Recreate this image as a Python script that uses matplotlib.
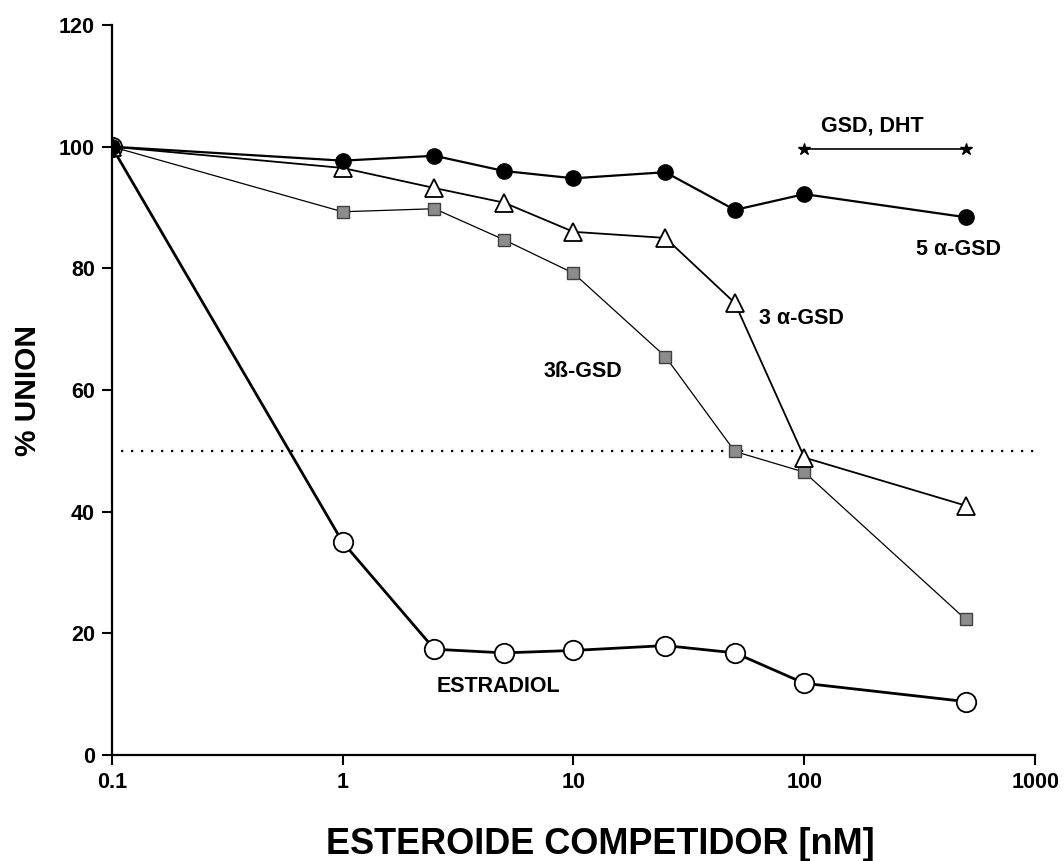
import matplotlib
matplotlib.use("Agg")
import matplotlib.pyplot as plt

conc = [0.1, 1, 2.5, 5, 10, 25, 50, 100, 500]
estradiol = [100, 35, 17.4, 16.8, 17.2, 18.0, 16.8, 11.8, 8.8]
gsd_5a = [100, 97.7, 98.5, 96.0, 94.8, 95.8, 89.6, 92.2, 88.4]
gsd_3a = [100, 96.5, 93.2, 90.8, 86.0, 85.0, 74.3, 48.9, 41.0]
gsd_3b = [100, 89.3, 89.8, 84.7, 79.2, 65.5, 49.9, 46.5, 22.3]
dht_x = [100, 500]
dht_y = [99.6, 99.6]

xticks = [0.1, 1, 10, 100, 1000]
xticklabels = ["0.1", "1", "10", "100", "1000"]
yticks = [0, 20, 40, 60, 80, 100, 120]

plt.rcParams['font.family'] = ['Liberation Sans', 'DejaVu Sans']

fig = plt.figure(figsize=(10.64, 8.61), dpi=100)
ax = fig.add_axes([0.105, 0.123, 0.868, 0.848])

ax.axhline(50, xmin=0.01, xmax=1.0, color='black', linestyle=(0, (1, 3.5)), linewidth=1.6)

ax.plot(conc, estradiol, color='black', linewidth=2.0, marker='o', markersize=14,
        markerfacecolor='white', markeredgecolor='black', markeredgewidth=1.3, zorder=3)
ax.plot(conc, gsd_3b, color='black', linewidth=0.9, marker='s', markersize=8,
        markerfacecolor='0.55', markeredgecolor='0.25', markeredgewidth=1.0, zorder=4)
ax.plot(conc, gsd_3a, color='black', linewidth=1.3, marker='^', markersize=13,
        markerfacecolor='white', markeredgecolor='black', markeredgewidth=1.3, zorder=5)
ax.plot(conc, gsd_5a, color='black', linewidth=1.6, marker='o', markersize=11,
        markerfacecolor='black', markeredgecolor='black', zorder=6)
ax.plot(dht_x, dht_y, color='black', linewidth=1.2, marker='*', markersize=9, zorder=6)

ax.set_xscale('log')
ax.set_xlim(0.1, 1000)
ax.set_ylim(0, 120)
ax.set_xticks(xticks)
ax.set_xticklabels(xticklabels)
ax.minorticks_off()
ax.set_yticks(yticks)

for s in ['top', 'right']:
    ax.spines[s].set_visible(False)
for s in ['left', 'bottom']:
    ax.spines[s].set_linewidth(1.6)

ax.tick_params(axis='both', direction='out', length=7, width=1.5, labelsize=15.5, pad=5)
for lab in ax.get_xticklabels() + ax.get_yticklabels():
    lab.set_fontweight('bold')

ax.set_xlabel('ESTEROIDE COMPETIDOR [nM]', fontsize=26, fontweight='bold')
ax.xaxis.set_label_coords(0.529, -0.099, transform=ax.transAxes)
ax.xaxis.label.set_va('top')
ax.set_ylabel('% UNION', fontsize=21.5, fontweight='bold', labelpad=12)

tkw = dict(fontsize=15.5, fontweight='bold', ha='center', va='center')
ax.text(197, 103.4, 'GSD, DHT', **tkw)
ax.text(464, 83.1, '5 α-GSD', **tkw)
ax.text(97, 71.8, '3 α-GSD', **tkw)
ax.text(11.0, 63.0, '3ß-GSD', **tkw)
ax.text(4.73, 11.2, 'ESTRADIOL', **tkw)

fig.savefig('out.png', dpi=100)
